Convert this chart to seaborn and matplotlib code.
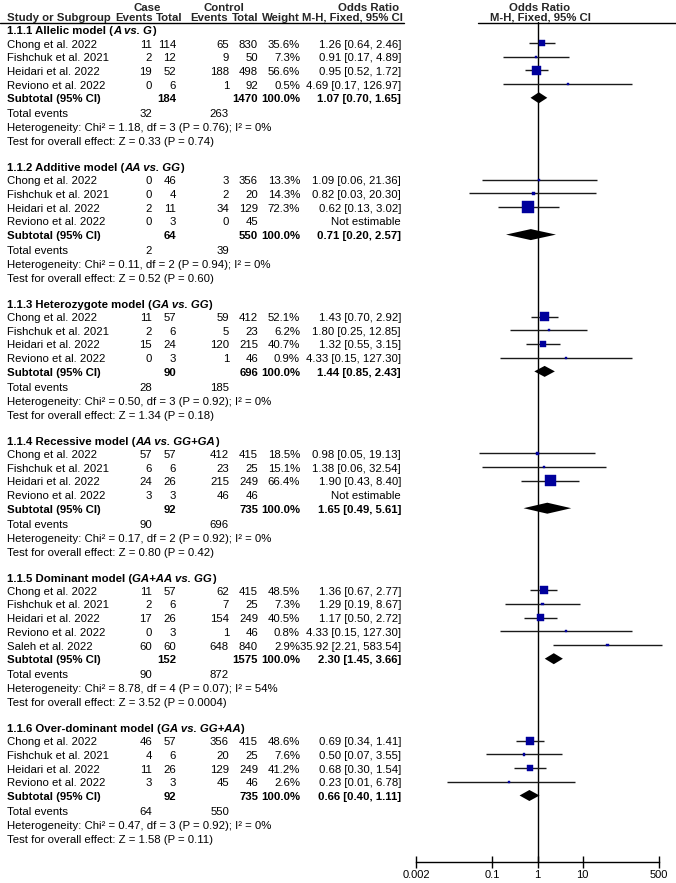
import numpy as np
import pandas as pd
import matplotlib
matplotlib.use("Agg")
import matplotlib.pyplot as plt
from matplotlib.ticker import NullLocator
import seaborn as sns

# ---- data ----
group_titles = ["1.1.1 Allelic model", "1.1.2 Additive model", "1.1.3 Heterozygote model",
                "1.1.4 Recessive model", "1.1.5 Dominant model", "1.1.6 Over-dominant model"]
group_contrasts = ["A vs. G", "AA vs. GG", "GA vs. GG", "AA vs. GG+GA", "GA+AA vs. GG", "GA vs. GG+AA"]

base_studies = ["Chong et al. 2022", "Fishchuk et al. 2021", "Heidari et al. 2022", "Reviono et al. 2022"]
study_names = [base_studies, base_studies, base_studies, base_studies,
               base_studies + ["Saleh et al. 2022"], base_studies]

case_events = [[11, 2, 19, 0], [0, 0, 2, 0], [11, 2, 15, 0], [57, 6, 24, 3], [11, 2, 17, 0, 60], [46, 4, 11, 3]]
case_total = [[114, 12, 52, 6], [46, 4, 11, 3], [57, 6, 24, 3], [57, 6, 26, 3], [57, 6, 26, 3, 60], [57, 6, 26, 3]]
ctrl_events = [[65, 9, 188, 1], [3, 2, 34, 0], [59, 5, 120, 1], [412, 23, 215, 46], [62, 7, 154, 1, 648], [356, 20, 129, 45]]
ctrl_total = [[830, 50, 498, 92], [356, 20, 129, 45], [412, 23, 215, 46], [415, 25, 249, 46], [415, 25, 249, 46, 840], [415, 25, 249, 46]]
weights = [[35.6, 7.3, 56.6, 0.5], [13.3, 14.3, 72.3, None], [52.1, 6.2, 40.7, 0.9],
           [18.5, 15.1, 66.4, None], [48.5, 7.3, 40.5, 0.8, 2.9], [48.6, 7.6, 41.2, 2.6]]
or_est = [[1.26, 0.91, 0.95, 4.69], [1.09, 0.82, 0.62, None], [1.43, 1.80, 1.32, 4.33],
          [0.98, 1.38, 1.90, None], [1.36, 1.29, 1.17, 4.33, 35.92], [0.69, 0.50, 0.68, 0.23]]
or_lo = [[0.64, 0.17, 0.52, 0.17], [0.06, 0.03, 0.13, None], [0.70, 0.25, 0.55, 0.15],
         [0.05, 0.06, 0.43, None], [0.67, 0.19, 0.50, 0.15, 2.21], [0.34, 0.07, 0.30, 0.01]]
or_hi = [[2.46, 4.89, 1.72, 126.97], [21.36, 20.30, 3.02, None], [2.92, 12.85, 3.15, 127.30],
         [19.13, 32.54, 8.40, None], [2.77, 8.67, 2.72, 127.30, 583.54], [1.41, 3.55, 1.54, 6.78]]

sub_case_total = [184, 64, 90, 92, 152, 92]
sub_ctrl_total = [1470, 550, 696, 735, 1575, 735]
sub_or = [1.07, 0.71, 1.44, 1.65, 2.30, 0.66]
sub_lo = [0.70, 0.20, 0.85, 0.49, 1.45, 0.40]
sub_hi = [1.65, 2.57, 2.43, 5.61, 3.66, 1.11]
tot_case_events = [32, 2, 28, 90, 90, 64]
tot_ctrl_events = [263, 39, 185, 696, 872, 550]
het_chi2 = ["1.18", "0.11", "0.50", "0.17", "8.78", "0.47"]
het_df = [3, 2, 3, 2, 4, 3]
het_p = ["0.76", "0.94", "0.92", "0.92", "0.07", "0.92"]
het_i2 = ["0%", "0%", "0%", "0%", "54%", "0%"]
z_val = ["0.33", "0.52", "1.34", "0.80", "3.52", "1.58"]
z_p = ["0.74", "0.60", "0.18", "0.42", "0.0004", "0.11"]

axis_ticks = [0.002, 0.1, 1, 10, 500]
axis_labels = ["0.002", "0.1", "1", "10", "500"]

# ---- style ----
sns.set_theme(style="white")
plt.rcParams["font.family"] = ["Liberation Sans", "DejaVu Sans"]
FS = 8.2
SQ_COLOR = "#00009C"

fig = plt.figure(figsize=(6.76, 8.83), dpi=100)
ax = fig.add_axes([0, 0, 1, 1])
ax.set_xlim(0, 676)
ax.set_ylim(883, 0)
ax.axis("off")

fax = fig.add_axes([416 / 676, 21 / 883, 243 / 676, 840 / 883])
fax.set_xscale("log")
fax.set_xlim(0.002, 500)
fax.set_ylim(862, 22)
fax.patch.set_alpha(0)

renderer = fig.canvas.get_renderer()


def txt(x, y, s, ha="left", bold=False, **kw):
    return ax.text(x, y + 1.5, s, ha=ha, va="center", fontsize=FS,
                   fontweight="bold" if bold else "normal", color="black", **kw)


def rich(x, y, parts):
    for s, style in parts:
        t = txt(x, y, s, bold=True, fontstyle=style)
        x += t.get_window_extent(renderer=renderer).width


# columns (right edges, px)
COL = dict(ce=152, ct=176, ke=229, kt=258, w=300, orr=401)

# header
ax.text(147, 8, "Case", ha="center", va="center", fontsize=FS, fontweight="bold")
ax.text(224, 8, "Control", ha="center", va="center", fontsize=FS, fontweight="bold")
ax.text(369, 8, "Odds Ratio", ha="center", va="center", fontsize=FS, fontweight="bold")
ax.text(540, 8, "Odds Ratio", ha="center", va="center", fontsize=FS, fontweight="bold")
ax.text(7, 18, "Study or Subgroup", ha="left", va="center", fontsize=FS, fontweight="bold")
for xr, s in [(153, "Events"), (182, "Total"), (228, "Events"), (259, "Total"),
              (300, "Weight"), (403, "M-H, Fixed, 95% CI")]:
    ax.text(xr, 18, s, ha="right", va="center", fontsize=FS, fontweight="bold")
ax.text(540, 18, "M-H, Fixed, 95% CI", ha="center", va="center", fontsize=FS, fontweight="bold")
ax.plot([0, 404], [22.5, 22.5], color="black", lw=1)
ax.plot([478, 676], [22.5, 22.5], color="black", lw=1)

# ---- rows ----
STEP = 13.7
y0 = 43
study_rows = []
sub_rows = []
for g in range(len(group_titles)):
    rich(7, y0 - 13, [(group_titles[g] + " (", "normal"), (group_contrasts[g], "italic"), (")", "normal")])
    n = len(study_names[g])
    for i in range(n):
        y = y0 + STEP * i
        txt(7, y, study_names[g][i])
        txt(COL["ce"], y, str(case_events[g][i]), ha="right")
        txt(COL["ct"], y, str(case_total[g][i]), ha="right")
        txt(COL["ke"], y, str(ctrl_events[g][i]), ha="right")
        txt(COL["kt"], y, str(ctrl_total[g][i]), ha="right")
        if weights[g][i] is None:
            txt(COL["orr"], y, "Not estimable", ha="right")
        else:
            txt(COL["w"], y, f"{weights[g][i]:.1f}%", ha="right")
            txt(COL["orr"], y, f"{or_est[g][i]:.2f} [{or_lo[g][i]:.2f}, {or_hi[g][i]:.2f}]", ha="right")
            study_rows.append(dict(y=y, est=or_est[g][i], lo=or_lo[g][i], hi=or_hi[g][i], w=weights[g][i]))
    ys = y0 + STEP * n
    txt(7, ys, "Subtotal (95% CI)", bold=True)
    txt(COL["ct"], ys, str(sub_case_total[g]), ha="right", bold=True)
    txt(COL["kt"], ys, str(sub_ctrl_total[g]), ha="right", bold=True)
    txt(COL["w"], ys, "100.0%", ha="right", bold=True)
    txt(COL["orr"], ys, f"{sub_or[g]:.2f} [{sub_lo[g]:.2f}, {sub_hi[g]:.2f}]", ha="right", bold=True)
    sub_rows.append(dict(y=ys, est=sub_or[g], lo=sub_lo[g], hi=sub_hi[g]))
    yt = ys + 15
    txt(7, yt, "Total events")
    txt(COL["ce"], yt, str(tot_case_events[g]), ha="right")
    txt(COL["ke"], yt, str(tot_ctrl_events[g]), ha="right")
    yh = yt + 14
    txt(7, yh, f"Heterogeneity: Chi\u00b2 = {het_chi2[g]}, df = {het_df[g]} (P = {het_p[g]}); I\u00b2 = {het_i2[g]}")
    yz = yh + 14
    txt(7, yz, f"Test for overall effect: Z = {z_val[g]} (P = {z_p[g]})")
    y0 = yz + 26 + 13

df_st = pd.DataFrame(study_rows)
df_sub = pd.DataFrame(sub_rows)
# square side roughly proportional to weight (px -> pt)
df_st["area"] = (np.maximum(2.2, 0.165 * df_st["w"]) * 0.72) ** 2

# ---- forest panel ----
fax.axvline(1, color="black", lw=1, zorder=1)
fax.hlines(df_st["y"], df_st["lo"], df_st["hi"], color="#1a1a1a", lw=1, zorder=2, clip_on=False)
sns.scatterplot(data=df_st, x="est", y="y", size="area", sizes=(0, 100), size_norm=(0, 100),
                marker="s", color=SQ_COLOR, edgecolor=SQ_COLOR, linewidth=0.3,
                legend=False, ax=fax, zorder=3, clip_on=False)
for _, r in df_sub.iterrows():
    fax.fill([r["lo"], r["est"], r["hi"], r["est"]], [r["y"], r["y"] - 5.5, r["y"], r["y"] + 5.5],
             color="black", lw=0, zorder=4)

for s in ["top", "right", "left"]:
    fax.spines[s].set_visible(False)
fax.spines["bottom"].set_color("black")
fax.spines["bottom"].set_linewidth(1)
fax.set_xticks(axis_ticks)
fax.set_xticklabels(axis_labels)
fax.xaxis.set_minor_locator(NullLocator())
fax.tick_params(axis="x", bottom=True, direction="inout", length=8, width=1,
                labelsize=8, pad=2, colors="black")
fax.set_yticks([])
fax.set_xlabel("")
fax.set_ylabel("")

fig.savefig("out.png", dpi=100)
